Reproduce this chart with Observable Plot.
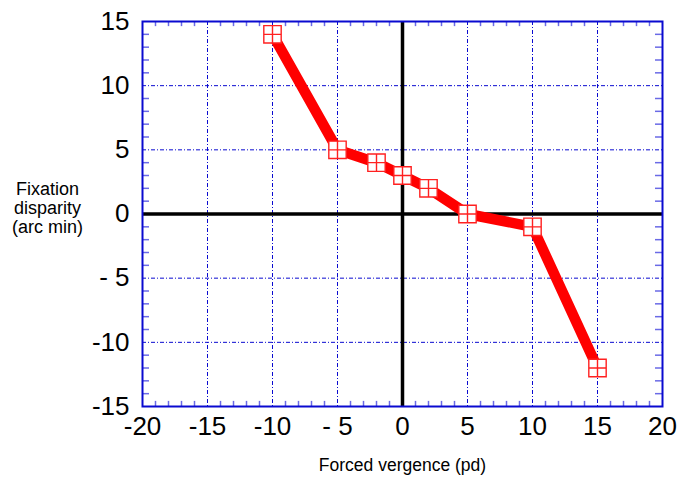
<!DOCTYPE html>
<html>
<head>
<meta charset="utf-8">
<script src="https://cdn.jsdelivr.net/npm/d3@7"></script>
<script src="https://cdn.jsdelivr.net/npm/@observablehq/plot@0.6"></script>
<style>
  html, body { margin: 0; padding: 0; background: #fff; }
</style>
</head>
<body>
<div id="chart"></div>
<script>
// Data
const vergence = [-10, -5, -2, 0, 2, 5, 10, 15];
const disparity = [14, 5, 4, 3, 2, 0, -1, -12];

const xTicks = [-20, -15, -10, -5, 0, 5, 10, 15, 20];
const yTicks = [-15, -10, -5, 0, 5, 10, 15];
const xGrid = [-15, -10, -5, 5, 10, 15];
const yGrid = [-10, -5, 5, 10];
const xMinor = d3.range(-19, 20).filter(v => v % 5 !== 0);
const yMinor = d3.range(-14, 15).filter(v => v % 5 !== 0);

const data = vergence.map((x, i) => ({x, y: disparity[i]}));

const fmt = d => (d < 0 && d > -10) ? "- " + (-d) : String(d);

const boxCross = {
  draw(ctx, size) {
    const s = Math.sqrt(size) / 2;
    ctx.moveTo(-s, -s); ctx.lineTo(s, -s); ctx.lineTo(s, s); ctx.lineTo(-s, s); ctx.closePath();
    ctx.moveTo(-s, 0); ctx.lineTo(s, 0);
    ctx.moveTo(0, -s); ctx.lineTo(0, s);
  }
};

const blue = "#0a0ad0";
const minorBlue = "#6a6ae6";
const tx = 0.54; // minor tick length in x units (left/right)
const ty = 0.4;  // minor tick length in y units (top/bottom)

const chart = Plot.plot({
  width: 678,
  height: 482,
  marginLeft: 142,
  marginRight: 16,
  marginTop: 21,
  marginBottom: 76,
  style: {fontFamily: "'Liberation Sans', Arial, Helvetica, sans-serif", fontSize: "26px", background: "#fff", color: "#000"},
  x: {domain: [-20, 20]},
  y: {domain: [-15, 15]},
  marks: [
    Plot.ruleX(xGrid, {stroke: blue, strokeWidth: 1, strokeDasharray: "4,2,1,2"}),
    Plot.ruleY(yGrid, {stroke: blue, strokeWidth: 1, strokeDasharray: "4,2,1,2"}),
    // minor ticks on all four sides (inward)
    Plot.ruleX(xMinor, {y1: -15, y2: -15 + ty, stroke: minorBlue, strokeWidth: 1.5}),
    Plot.ruleX(xMinor, {y1: 15, y2: 15 - ty, stroke: minorBlue, strokeWidth: 1.5}),
    Plot.ruleY(yMinor, {x1: -20, x2: -20 + tx, stroke: minorBlue, strokeWidth: 1.5}),
    Plot.ruleY(yMinor, {x1: 20, x2: 20 - tx, stroke: minorBlue, strokeWidth: 1.5}),
    Plot.ruleX([0], {stroke: "#000", strokeWidth: 3.5}),
    Plot.ruleY([0], {stroke: "#000", strokeWidth: 3.5}),
    Plot.frame({stroke: blue, strokeWidth: 2}),
    Plot.axisX({ticks: xTicks, tickFormat: fmt, tickSize: 0, tickPadding: 10, label: null, fontSize: 26}),
    Plot.axisY({ticks: yTicks, tickFormat: fmt, tickSize: 0, tickPadding: 13, label: null, fontSize: 26}),
    Plot.line(data, {x: "x", y: "y", stroke: "#ff0000", strokeWidth: 10.5, strokeLinejoin: "round"}),
    Plot.dot(data, {x: "x", y: "y", symbol: boxCross, r: 9.8, fill: "#fff", stroke: "#ff2020", strokeWidth: 1.4}),
    Plot.text(["Fixation\ndisparity\n(arc min)"], {frameAnchor: "left", dx: -95, dy: -6, textAnchor: "middle", fontSize: 18, lineHeight: 1.05, fill: "#000"}),
    Plot.text(["Forced vergence (pd)"], {frameAnchor: "bottom", dy: 64, textAnchor: "middle", fontSize: 17.5, fill: "#000"})
  ]
});
document.getElementById("chart").appendChild(chart);
</script>
</body>
</html>
